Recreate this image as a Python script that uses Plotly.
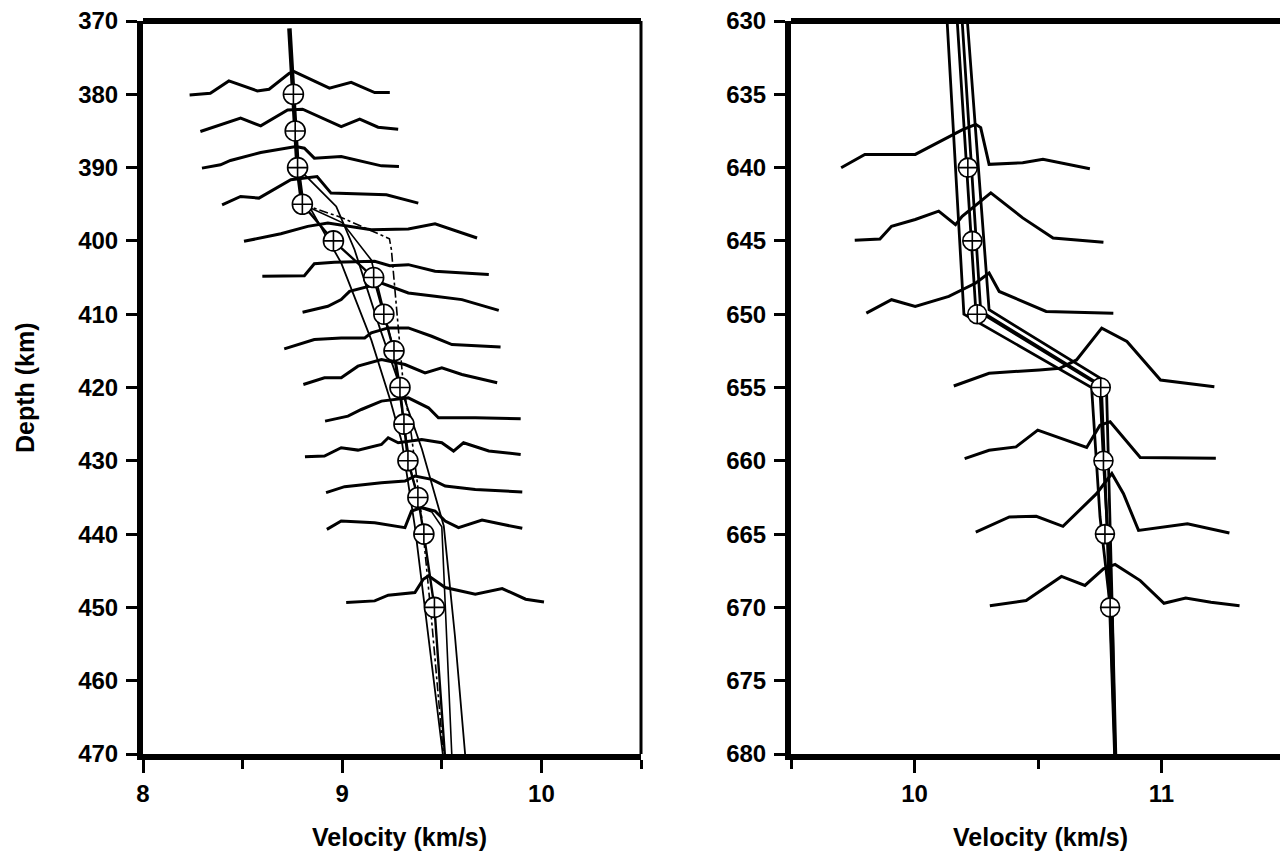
import plotly.graph_objects as go

# ---------------- LEFT PANEL (410 km region) ----------------
L_X_RANGE = [8, 10.5]
L_Y_RANGE = [470, 370]
L_XTICKS = [8, 9, 10]
L_YTICKS = [370, 380, 390, 400, 410, 420, 430, 440, 450, 460, 470]

L_CIRCLE_DEPTH = [380, 385, 390, 395, 400, 405, 410, 415, 420, 425, 430, 435, 440, 450]
L_CIRCLE_VEL = [8.755, 8.764, 8.776, 8.80, 8.956, 9.158, 9.209, 9.26, 9.29, 9.31, 9.33, 9.38, 9.41, 9.463]

# velocity models
l_m0_v = [8.735, 8.755, 8.764, 8.776, 8.80]
l_m0_d = [371, 380, 385, 390, 395]
l_m1_v = [8.80, 8.956, 9.158, 9.209, 9.26, 9.29, 9.31, 9.33, 9.38, 9.41, 9.463, 9.515]
l_m1_d = [395, 400, 405, 410, 415, 420, 425, 430, 435, 440, 450, 470]
l_m2_v = [8.80, 8.843, 8.995, 9.146, 9.24, 9.30, 9.365, 9.42, 9.505]
l_m2_d = [395, 395.7, 403, 413.5, 421.6, 427.5, 439, 451, 470]
l_m3_v = [8.776, 8.97, 9.062, 9.19, 9.40, 9.47, 9.51, 9.566, 9.617]
l_m3_d = [390, 395.3, 401.2, 412, 428.4, 435.3, 438.9, 453.9, 470]
l_m4_v = [8.80, 9.0, 9.146, 9.25, 9.31, 9.35, 9.40, 9.45, 9.50, 9.525, 9.55]
l_m4_d = [395, 397.5, 402.6, 414, 425, 432, 436.5, 437, 439, 454, 470]
l_m5_v = [8.80, 8.995, 9.237, 9.247, 9.306, 9.348, 9.40, 9.449, 9.508]
l_m5_d = [395, 396.8, 399.7, 401.2, 419.4, 426.6, 438, 451.8, 470]

# waveform traces (velocity, depth)
t380_v = [8.234, 8.338, 8.431, 8.574, 8.633, 8.734, 8.759, 8.936, 9.045, 9.163, 9.239]
t380_d = [380.08, 379.85, 378.17, 379.54, 379.31, 377.13, 376.9, 379.17, 378.36, 379.76, 379.76]
t385_v = [8.288, 8.490, 8.591, 8.726, 8.801, 8.995, 9.088, 9.180, 9.281]
t385_d = [385.08, 383.26, 384.31, 382.13, 382.03, 384.40, 383.40, 384.49, 384.76]
t390_v = [8.296, 8.389, 8.439, 8.591, 8.768, 8.810, 8.860, 8.995, 9.197, 9.285]
t390_d = [390.07, 389.62, 389.03, 387.94, 387.12, 387.35, 388.71, 388.48, 389.76, 389.85]
t395_v = [8.397, 8.490, 8.582, 8.742, 8.874, 8.944, 9.222, 9.382]
t395_d = [395.07, 393.93, 394.16, 391.66, 391.21, 393.48, 393.71, 394.84]
t400_v = [8.507, 8.692, 8.827, 8.928, 9.146, 9.332, 9.466, 9.677]
t400_d = [400.06, 399.02, 398.02, 397.57, 398.47, 398.38, 397.66, 399.61]
t405_v = [8.599, 8.810, 8.860, 8.961, 9.163, 9.239, 9.332, 9.466, 9.736]
t405_d = [404.83, 404.74, 403.11, 402.92, 402.79, 403.38, 403.24, 404.15, 404.60]
t410_v = [8.801, 8.928, 8.995, 9.037, 9.197, 9.264, 9.332, 9.466, 9.601, 9.786]
t410_d = [409.74, 408.92, 408.01, 406.88, 405.74, 406.42, 407.10, 407.56, 408.01, 409.47]
t415_v = [8.709, 8.860, 8.995, 9.113, 9.146, 9.231, 9.332, 9.449, 9.551, 9.795]
t415_d = [414.73, 413.46, 413.23, 413.23, 412.55, 411.87, 411.87, 413.01, 414.14, 414.46]
t420_v = [8.805, 8.911, 8.995, 9.079, 9.197, 9.315, 9.416, 9.500, 9.601, 9.778]
t420_d = [419.59, 418.68, 418.68, 417.09, 416.18, 416.87, 418.00, 417.32, 418.23, 419.36]
t425_v = [8.914, 9.029, 9.096, 9.197, 9.332, 9.433, 9.483, 9.668, 9.896]
t425_d = [424.59, 423.91, 423.00, 421.86, 421.41, 422.77, 424.13, 424.13, 424.27]
t430_v = [8.813, 8.911, 8.995, 9.079, 9.197, 9.231, 9.281, 9.399, 9.500, 9.559, 9.609, 9.736, 9.896]
t430_d = [429.45, 429.35, 428.22, 428.54, 427.77, 426.86, 427.54, 427.08, 427.54, 428.67, 427.54, 428.67, 429.13]
t435_v = [8.919, 9.012, 9.197, 9.315, 9.365, 9.449, 9.517, 9.668, 9.904]
t435_d = [434.35, 433.53, 432.99, 432.76, 432.08, 432.53, 433.44, 433.90, 434.26]
t440_v = [8.923, 8.995, 9.163, 9.315, 9.348, 9.399, 9.466, 9.517, 9.584, 9.702, 9.803, 9.904]
t440_d = [439.35, 438.21, 438.44, 439.12, 436.85, 436.39, 436.85, 438.21, 439.12, 438.07, 438.66, 439.21]
t450_v = [9.020, 9.163, 9.231, 9.365, 9.407, 9.433, 9.517, 9.668, 9.803, 9.921, 10.013]
t450_d = [449.34, 449.11, 448.34, 447.97, 446.16, 445.70, 447.29, 448.20, 447.43, 448.88, 449.25]

# ---------------- RIGHT PANEL (660 km region) ----------------
R_X_RANGE = [9.5, 11.5]
R_Y_RANGE = [680, 630]
R_XTICKS = [10, 11]
R_YTICKS = [630, 635, 640, 645, 650, 655, 660, 665, 670, 675, 680]

R_CIRCLE_DEPTH = [640, 645, 650, 655, 660, 665, 670]
R_CIRCLE_VEL = [10.216, 10.234, 10.254, 10.754, 10.765, 10.771, 10.792]

r_m1_v = [10.132, 10.200, 10.717, 10.751, 10.792, 10.812]
r_m1_d = [630, 650, 655, 663.8, 669.9, 680]
r_m2_v = [10.214, 10.302, 10.765, 10.778, 10.798, 10.815]
r_m2_d = [630, 649.7, 654.5, 655.5, 668.4, 680]
r_m3_v = [10.173, 10.248, 10.743, 10.758, 10.778, 10.810]
r_m3_d = [630, 649.7, 654.8, 655.5, 663.9, 680]
r_m4_v = [10.193, 10.268, 10.750, 10.765, 10.800, 10.812]
r_m4_d = [630, 649.8, 654.8, 660, 670, 680]

t640_v = [9.703, 9.799, 10.003, 10.193, 10.248, 10.268, 10.302, 10.438, 10.520, 10.710]
t640_d = [640.01, 639.10, 639.10, 637.43, 637.05, 637.27, 639.78, 639.67, 639.44, 640.08]
t645_v = [9.758, 9.860, 9.907, 10.003, 10.098, 10.166, 10.193, 10.309, 10.438, 10.561, 10.765]
t645_d = [644.96, 644.87, 644.00, 643.54, 642.97, 643.89, 643.32, 641.72, 643.43, 644.80, 645.09]
t650_v = [9.805, 9.907, 10.003, 10.139, 10.248, 10.302, 10.343, 10.533, 10.805]
t650_d = [649.93, 649.01, 649.47, 648.79, 647.87, 647.19, 648.45, 649.81, 649.93]
t655_v = [10.159, 10.302, 10.506, 10.588, 10.656, 10.683, 10.758, 10.860, 10.996, 11.214]
t655_d = [654.90, 654.03, 653.80, 653.69, 653.12, 652.55, 650.95, 651.86, 654.49, 654.95]
t660_v = [10.203, 10.302, 10.411, 10.499, 10.697, 10.751, 10.792, 10.914, 11.220]
t660_d = [659.85, 659.28, 659.05, 657.91, 659.09, 657.57, 657.34, 659.78, 659.82]
t665_v = [10.248, 10.384, 10.493, 10.601, 10.737, 10.799, 10.846, 10.907, 11.105, 11.275]
t665_d = [664.86, 663.83, 663.79, 664.47, 662.24, 660.87, 662.24, 664.75, 664.29, 664.93]
t670_v = [10.305, 10.452, 10.595, 10.690, 10.765, 10.812, 10.914, 11.010, 11.098, 11.200, 11.316]
t670_d = [669.88, 669.53, 667.89, 668.50, 667.37, 667.07, 668.17, 669.72, 669.36, 669.65, 669.88]

# ---------------- FIGURE ----------------
fig = go.Figure()
BLACK = "black"

def line(v, d, xa, ya, width=2.0, dash="solid"):
    fig.add_trace(go.Scatter(x=v, y=d, mode="lines", xaxis=xa, yaxis=ya,
                             line=dict(color=BLACK, width=width, dash=dash),
                             hoverinfo="skip", showlegend=False))

# left models
line(l_m2_v, l_m2_d, "x", "y", 1.8)
line(l_m3_v, l_m3_d, "x", "y", 1.8)
line(l_m4_v, l_m4_d, "x", "y", 1.6)
line(l_m5_v, l_m5_d, "x", "y", 1.6, "dashdot")
line(l_m1_v, l_m1_d, "x", "y", 2.4)
line(l_m0_v, l_m0_d, "x", "y", 4.5)

# left traces
for v, d in [(t380_v, t380_d), (t385_v, t385_d), (t390_v, t390_d), (t395_v, t395_d),
             (t400_v, t400_d), (t405_v, t405_d), (t410_v, t410_d), (t415_v, t415_d),
             (t420_v, t420_d), (t425_v, t425_d), (t430_v, t430_d), (t435_v, t435_d),
             (t440_v, t440_d), (t450_v, t450_d)]:
    line(v, d, "x", "y", 3)

# right models
for v, d in [(r_m1_v, r_m1_d), (r_m2_v, r_m2_d), (r_m3_v, r_m3_d), (r_m4_v, r_m4_d)]:
    line(v, d, "x2", "y2", 2.8)

# right traces
for v, d in [(t640_v, t640_d), (t645_v, t645_d), (t650_v, t650_d), (t655_v, t655_d),
             (t660_v, t660_d), (t665_v, t665_d), (t670_v, t670_d)]:
    line(v, d, "x2", "y2", 3)

# circle-cross markers
fig.add_trace(go.Scatter(x=L_CIRCLE_VEL, y=L_CIRCLE_DEPTH, mode="markers", xaxis="x", yaxis="y",
                         marker=dict(symbol="circle-cross", size=20, color="white",
                                     line=dict(color=BLACK, width=1.6)),
                         hoverinfo="skip", showlegend=False))
fig.add_trace(go.Scatter(x=R_CIRCLE_VEL, y=R_CIRCLE_DEPTH, mode="markers", xaxis="x2", yaxis="y2",
                         marker=dict(symbol="circle-cross", size=19, color="white",
                                     line=dict(color=BLACK, width=1.6)),
                         hoverinfo="skip", showlegend=False))

FONT = "Liberation Sans, Arial, Helvetica, sans-serif"
tickfont = dict(family=FONT, size=24, color=BLACK, weight="bold")

# the page body adds an 8 px offset; figure pixel = screen pixel - 8
W, H = 1280, 846
OFF = 8
xl = [(143 - OFF) / W, (641 - OFF) / W]
xr = [(791 - OFF) / W, (1285 - OFF) / W]
yd = [1 - (754 - OFF) / H, 1 - (21 - OFF) / H]

common_x = dict(showline=True, linewidth=6, linecolor=BLACK, ticks="outside", ticklen=13,
                tickwidth=3, tickcolor=BLACK, showgrid=False, zeroline=False, automargin=False,
                tickfont=tickfont, fixedrange=True, ticklabelstandoff=0,
                ticklabeloverflow="allow")
common_y = dict(showline=True, linewidth=6, linecolor=BLACK, ticks="outside", ticklen=11,
                tickwidth=3, tickcolor=BLACK, showgrid=False, zeroline=False, automargin=False,
                tickfont=tickfont, fixedrange=True, ticklabelstandoff=3,
                ticklabeloverflow="allow")

fig.update_layout(
    width=W, height=H,
    margin=dict(l=0, r=0, t=0, b=0, autoexpand=False),
    plot_bgcolor="white", paper_bgcolor="white",
    showlegend=False,
    xaxis=dict(domain=xl, range=L_X_RANGE, anchor="y", tickmode="array", tickvals=L_XTICKS,
               ticktext=[str(t) for t in L_XTICKS],
               minor=dict(tick0=8, dtick=0.5, ticks="outside", ticklen=9, tickwidth=3,
                          tickcolor=BLACK, showgrid=False),
               **common_x),
    yaxis=dict(domain=yd, range=L_Y_RANGE, anchor="x", tickmode="array", tickvals=L_YTICKS,
               **common_y),
    xaxis2=dict(domain=xr, range=R_X_RANGE, anchor="y2", tickmode="array", tickvals=R_XTICKS,
                ticktext=[str(t) for t in R_XTICKS],
                minor=dict(tick0=9.5, dtick=0.5, ticks="outside", ticklen=9, tickwidth=3,
                           tickcolor=BLACK, showgrid=False),
                **common_x),
    yaxis2=dict(domain=yd, range=R_Y_RANGE, anchor="x2", tickmode="array", tickvals=R_YTICKS,
                **common_y),
)

# frame: top and right borders
for xa, ya in [("x", "y"), ("x2", "y2")]:
    fig.add_shape(type="line", xref=f"{xa} domain", yref=f"{ya} domain",
                  x0=0, x1=1, y0=1, y1=1, line=dict(color=BLACK, width=6))
    fig.add_shape(type="line", xref=f"{xa} domain", yref=f"{ya} domain",
                  x0=1, x1=1, y0=0, y1=1, line=dict(color=BLACK, width=3))

titlefont = dict(family=FONT, size=25, color=BLACK, weight="bold")
fig.add_annotation(text="Depth (km)", x=(25 - OFF) / W, y=1 - (388 - OFF) / H, xref="paper", yref="paper",
                   showarrow=False, textangle=-90, font=titlefont, xanchor="center", yanchor="middle")
fig.add_annotation(text="Velocity (km/s)", x=(399 - OFF) / W, y=1 - (837 - OFF) / H, xref="paper", yref="paper",
                   showarrow=False, font=titlefont, xanchor="center", yanchor="middle")
fig.add_annotation(text="Velocity (km/s)", x=(1040 - OFF) / W, y=1 - (837 - OFF) / H, xref="paper", yref="paper",
                   showarrow=False, font=titlefont, xanchor="center", yanchor="middle")

fig.write_html("out.html")
